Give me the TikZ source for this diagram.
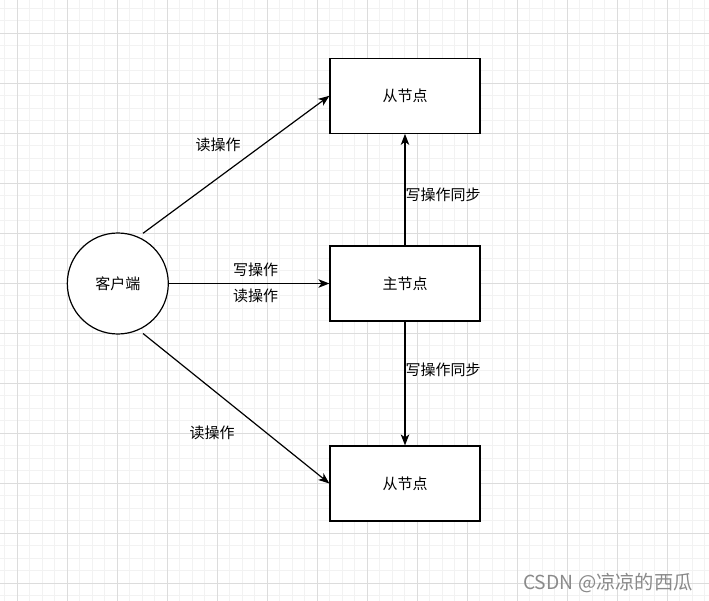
\documentclass[tikz,border=0pt]{standalone}
\usepackage{fontspec}
\newfontfamily\cjk{Noto Sans CJK SC}
\usetikzlibrary{arrows.meta}
\definecolor{minorgrid}{HTML}{F2F2F2}
\definecolor{majorgrid}{HTML}{DCDCDC}
\definecolor{wm}{HTML}{8A8A8A}
\tikzset{
  minorline/.style={draw=minorgrid,line width=0.9pt},
  majorline/.style={draw=majorgrid,line width=1pt},
  boxnode/.style={draw=black,line width=1.2pt,fill=white,minimum width=150pt,minimum height=75pt,inner sep=0pt,font=\cjk\fontsize{15}{17}\selectfont},
  circnode/.style={draw=black,line width=1.2pt,fill=white,circle,minimum size=101pt,inner sep=0pt,font=\cjk\fontsize{15}{17}\selectfont},
  lbl/.style={inner sep=0pt,font=\cjk\fontsize{15}{17}\selectfont},
  conn/.style={draw=black,line width=1.2pt,-{Stealth[length=11pt,width=8.5pt,inset=3pt]}},
}
\begin{document}
\begin{tikzpicture}[x=1pt,y=-1pt]
\useasboundingbox (0,0) rectangle (709,601);
\fill[white] (0,0) rectangle (709,601);
\foreach \x in {4.8,17.3,...,709} \draw[minorline] (\x,0) -- (\x,601);
\foreach \y in {8.3,20.8,...,601} \draw[minorline] (0,\y) -- (709,\y);
\foreach \x in {17.3,67.3,...,709} \draw[majorline] (\x,0) -- (\x,601);
\foreach \y in {33.3,83.3,...,601} \draw[majorline] (0,\y) -- (709,\y);

\node[boxnode] (top) at (405,95.8) {从节点};
\node[boxnode] (mid) at (405,283.5) {主节点};
\node[boxnode] (bot) at (405,483.5) {从节点};
\node[circnode] (cli) at (117.8,283.5) {客户端};

\coordinate (s1) at (143,233.3);
\coordinate (s2) at (143,333.5);

\draw[conn] (s1) -- (top.west);
\draw[conn] (cli.east) -- (mid.west);
\draw[conn] (s2) -- (bot.west);
\draw[conn] (mid.north) -- (top.south);
\draw[conn] (mid.south) -- (bot.north);

\node[lbl] (l1) at (218,145) {读操作};
\node[lbl] (l2) at (255.5,270) {写操作};
\node[lbl] (l3) at (255.5,296) {读操作};
\node[lbl] (l4) at (443,195) {写操作同步};
\node[lbl] (l5) at (443,370) {写操作同步};
\node[lbl] (l6) at (212,433) {读操作};

\node[inner sep=0pt,text=wm,font=\cjk\fontsize{19.3}{21}\selectfont] (wmk) at (608,583) {CSDN @凉凉的西瓜};
\end{tikzpicture}
\end{document}
